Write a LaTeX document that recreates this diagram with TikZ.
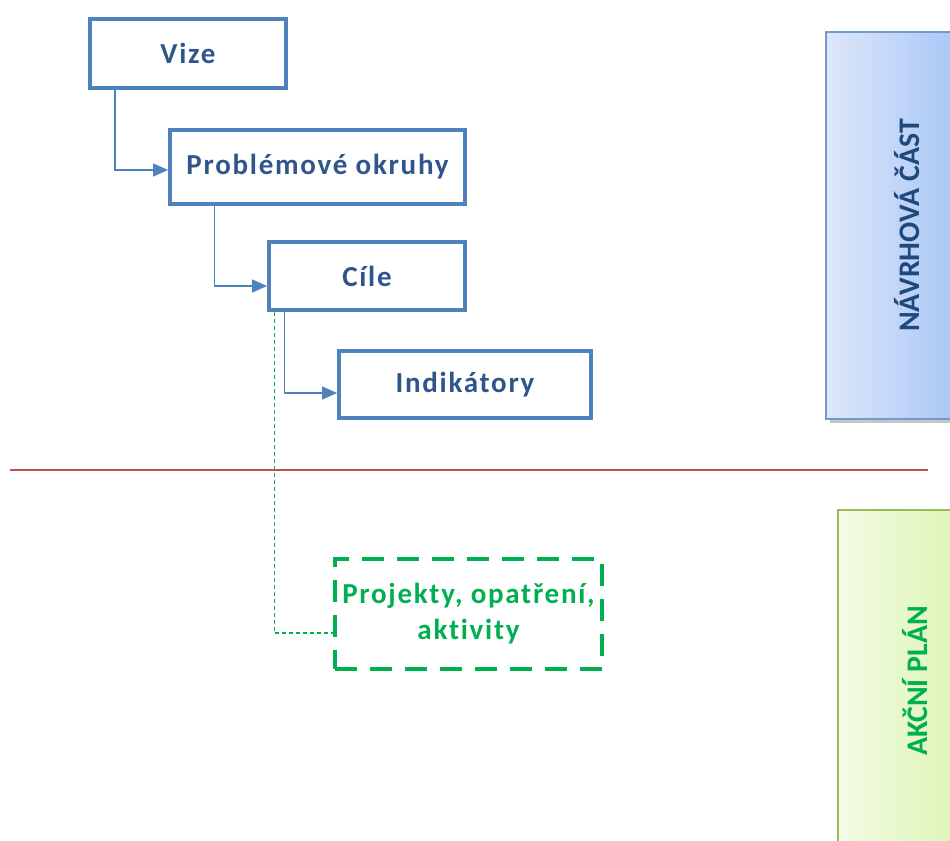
\documentclass[tikz,border=0pt]{standalone}
\usepackage{fontspec}
\setmainfont{Carlito}
\newfontfamily\boxfont{Carlito}[LetterSpace=6,Ligatures=NoCommon]
\usetikzlibrary{arrows.meta,positioning}

\definecolor{boxblue}{HTML}{4F81BD}
\definecolor{textblue}{HTML}{2F558C}
\definecolor{barblue}{HTML}{1F497D}
\definecolor{okgreen}{HTML}{00B050}
\definecolor{lineRed}{HTML}{C0504D}
\definecolor{barBlueL}{HTML}{DEE7FA}
\definecolor{barBlueR}{HTML}{9BBEF5}
\definecolor{barGreenL}{HTML}{F3FBE6}
\definecolor{barGreenR}{HTML}{D6F3A5}
\definecolor{barGreenEdge}{HTML}{9BBB59}

\begin{document}
\begin{tikzpicture}[x=0.02cm,y=-0.02cm,
	box/.style={draw=boxblue,line width=2.2pt,fill=white,text=textblue,
		font=\boxfont\bfseries\fontsize{16.5}{19}\selectfont,inner sep=0pt},
	actbox/.style={draw=okgreen,line width=2.2pt,dash pattern=on 0.44cm off 0.26cm,
		text=okgreen,font=\boxfont\bfseries\fontsize{16.5}{20.5}\selectfont,align=center,inner sep=0pt},
	link/.style={draw=boxblue,line width=0.8pt,-{Triangle[length=0.3cm,width=0.26cm]}},
	actlink/.style={draw=okgreen,line width=0.7pt,dash pattern=on 0.08cm off 0.06cm},
	bartext/.style={rotate=90,font=\bfseries\fontsize{17}{19}\selectfont}]
 	\useasboundingbox (0,0) rectangle (950,840);
 	\clip (0,0) rectangle (950,840);
 	% side bars
 	\fill[gray!45] (830,36) rectangle (994,423);
 	\draw[boxblue!80,line width=0.8pt,left color=barBlueL,right color=barBlueR]
 		(826,32) rectangle (990,419);
 	\node[bartext,text=barblue] (navrh) at (907,225.5) {NÁVRHOVÁ ČÁST};
 	\draw[barGreenEdge,line width=0.8pt,left color=barGreenL,right color=barGreenR]
 		(838,510) rectangle (994,860);
 	\node[bartext,text=okgreen] (akcni) at (915,681) {AKČNÍ PLÁN};
 	% divider
 	\draw[lineRed,line width=1.5pt] (10,470) -- (928,470);
 	% boxes
 	\node[box,minimum width=3.92cm,minimum height=1.38cm] (vize) at (188,53.5) {Vize};
 	\node[box,minimum width=5.9cm,minimum height=1.48cm] (okruhy) at (317.5,167) {Problémové okruhy};
 	\node[box,minimum width=3.92cm,minimum height=1.36cm] (cile) at (367,276) {Cíle};
 	\node[box,minimum width=5.04cm,minimum height=1.34cm] (indik) at (465,384.5) {Indikátory};
 	\node[actbox,minimum width=5.34cm,minimum height=2.2cm] (projekty) at (468.5,614)
 		{Projekty, opatření,\\aktivity};
 	% connectors
 	\draw[link] ([xshift=0.54cm]vize.south west) |- ([yshift=-0.06cm]okruhy.west);
 	\draw[link] ([xshift=0.93cm]okruhy.south west) |- ([yshift=-0.2cm]cile.west);
 	\draw[link] ([xshift=0.35cm]cile.south west) |- ([yshift=-0.17cm]indik.west);
 	\draw[actlink] ([xshift=0.15cm]cile.south west) |- ([yshift=-0.38cm]projekty.west);
\end{tikzpicture}
\end{document}
